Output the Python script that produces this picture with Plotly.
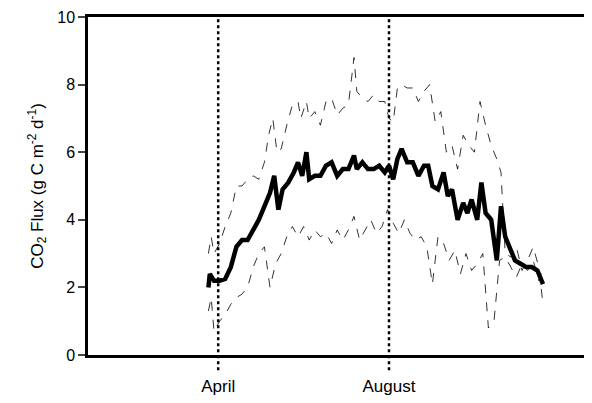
import plotly.graph_objects as go

mean_d = [84,85,88,92,96,100,104,108,112,116,120,124,128,131,134,137,141,145,148,151,154,156,160,164,168,172,176,180,184,188,190,194,198,202,206,210,213,216,219,222,226,230,234,238,241,244,248,252,255,258,262,266,269,272,276,279,282,286,290,293,296,299,303,307,311,315,319,323]
mean_v = [2.0,2.4,2.2,2.2,2.25,2.6,3.2,3.4,3.4,3.7,4.0,4.4,4.8,5.3,4.3,4.9,5.1,5.4,5.7,5.3,6.0,5.2,5.3,5.3,5.6,5.7,5.3,5.5,5.5,5.9,5.5,5.7,5.5,5.5,5.6,5.4,5.6,5.2,5.8,6.1,5.7,5.7,5.3,5.6,5.6,5.0,4.9,5.4,4.7,4.9,4.0,4.5,4.2,4.6,4.0,5.1,4.2,4.0,2.8,4.4,3.5,3.2,2.8,2.7,2.6,2.6,2.5,2.1]
up_d = [84,86,88,92,96,100,104,108,112,116,120,124,127,130,133,136,140,144,148,150,154,156,160,164,168,172,176,180,184,188,190,194,198,202,206,210,213,216,219,222,226,230,234,238,242,246,250,254,258,262,266,270,274,278,282,286,290,293,296,300,304,308,312,316,320,323]
up_v = [3.0,3.5,3.0,3.3,3.8,4.2,5.0,5.0,5.2,5.3,5.2,5.7,6.5,7.0,6.0,6.1,6.8,7.4,7.5,7.0,7.5,7.0,7.2,6.8,7.5,7.6,7.1,7.3,7.4,8.8,7.8,7.6,7.5,7.7,7.5,7.5,7.0,6.9,7.9,8.0,7.9,7.9,7.5,7.8,8.0,6.9,7.2,6.0,6.2,5.5,6.5,6.2,6.0,7.5,6.8,6.2,5.8,5.4,3.0,2.9,3.2,2.5,2.8,3.2,2.6,1.5]
lo_d = [84,86,88,92,96,100,104,108,112,116,120,124,128,132,136,140,144,148,152,156,160,164,168,172,176,180,184,188,192,196,200,204,208,212,216,220,224,228,232,236,240,244,248,252,256,260,264,268,272,276,280,284,288,292,296,300,304,308,312,316,320,323]
lo_v = [1.3,1.7,0.7,1.0,1.2,1.5,1.7,1.8,2.0,2.6,3.0,3.2,2.0,2.7,3.0,3.5,3.8,3.5,3.8,3.4,3.7,3.5,3.6,3.3,3.7,3.4,3.7,4.1,3.4,3.7,4.0,3.6,3.8,4.3,3.9,3.6,4.0,3.6,3.4,3.5,3.2,2.1,3.5,3.3,2.8,3.1,2.4,3.0,2.5,2.7,3.0,0.8,1.0,2.8,2.9,2.6,2.3,2.7,2.5,2.8,2.2,2.6]
month_days = [91, 213]
month_labels = ["April", "August"]

fig = go.Figure()
for d, v in [(up_d, up_v), (lo_d, lo_v)]:
    fig.add_trace(go.Scatter(x=d, y=v, mode="lines", line=dict(color="black", width=0.8, dash="dash")))
fig.add_trace(go.Scatter(x=mean_d, y=mean_v, mode="lines", line=dict(color="black", width=4.5)))
for m in month_days:
    fig.add_shape(type="line", x0=m, x1=m, y0=-0.045, y1=1.0, yref="paper", xref="x",
                  line=dict(color="black", width=2.5, dash="dot"))
fig.update_layout(
    width=584, height=395, showlegend=False, plot_bgcolor="white", paper_bgcolor="white",
    margin=dict(l=80, r=0, t=9, b=48, autoexpand=False),
    font=dict(family="Liberation Sans, Arial", size=16, color="black"),
    xaxis=dict(range=[-2, 358], tickvals=month_days, ticktext=month_labels, ticks="outside",
               ticklen=14, tickcolor="rgba(0,0,0,0)", automargin=False, tickfont=dict(size=17),
               showline=True, linecolor="black", linewidth=2.5, mirror=True, showgrid=False, zeroline=False),
    yaxis=dict(range=[0, 10], tickvals=[0, 2, 4, 6, 8, 10], ticks="outside", ticklen=7, tickwidth=2,
               automargin=False,
               showline=True, linecolor="black", linewidth=2.5, showgrid=False, zeroline=False,
               title=dict(text="CO<sub>2</sub> Flux (g C m<sup>-2</sup> d<sup>-1</sup>)", standoff=10,
                          font=dict(size=17))),
)
fig.write_html("out.html")
